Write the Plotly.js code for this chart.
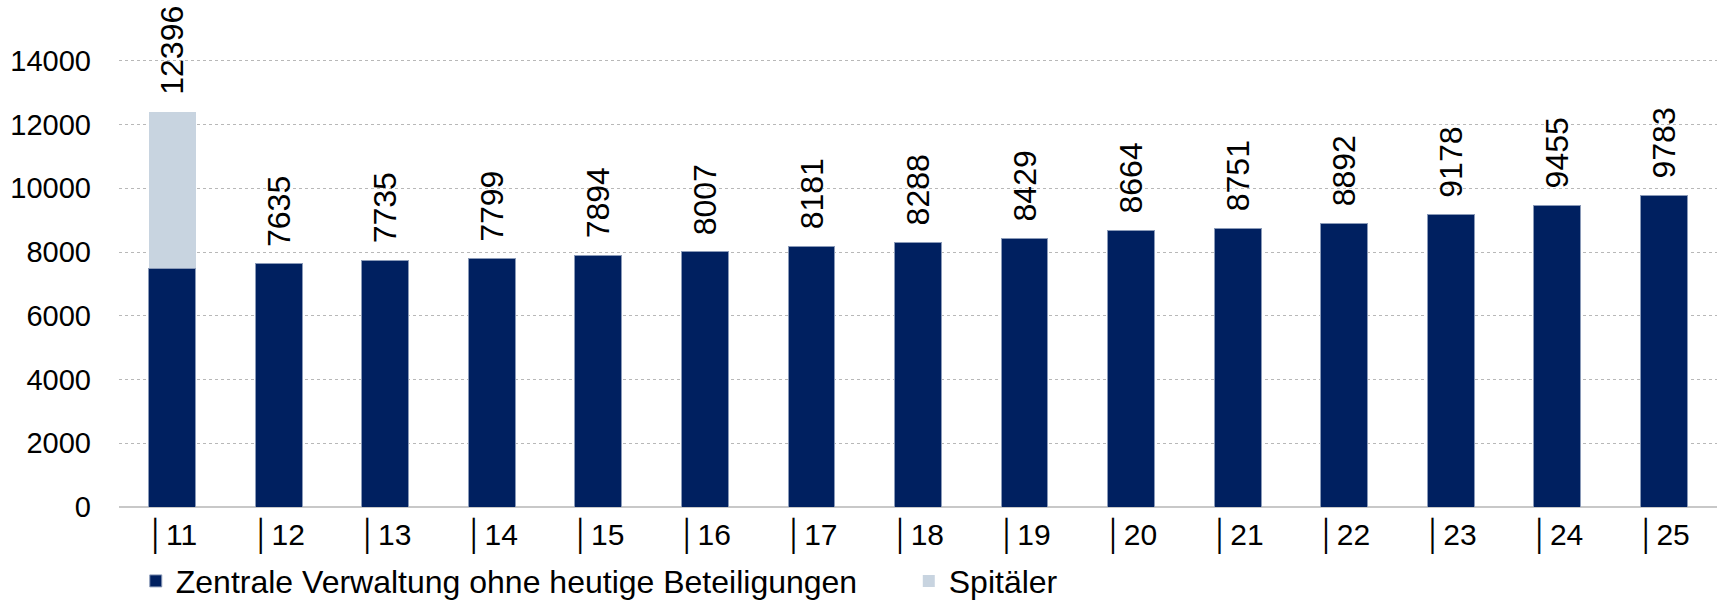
<!DOCTYPE html>
<html>
<head>
<meta charset="utf-8">
<script src="https://cdn.plot.ly/plotly-3.0.1.min.js"></script>
<style>html,body{margin:0;padding:0;background:#fff;}#chart{width:1723px;height:600px;}</style>
</head>
<body>
<div id="chart"></div>
<script>
const categories = ["11","12","13","14","15","16","17","18","19","20","21","22","23","24","25"];
const tickLabels = ["│11","│12","│13","│14","│15","│16","│17","│18","│19","│20","│21","│22","│23","│24","│25"];
const zentrale = [7500,7635,7735,7799,7894,8007,8181,8288,8429,8664,8751,8892,9178,9455,9783];
const spitaeler = [4896,0,0,0,0,0,0,0,0,0,0,0,0,0,0];
const totals = [12396,7635,7735,7799,7894,8007,8181,8288,8429,8664,8751,8892,9178,9455,9783];
const seriesNames = ["Zentrale Verwaltung ohne heutige Beteiligungen","Spitäler"];
const yTicks = [0,2000,4000,6000,8000,10000,12000,14000];

const FAM = "Liberation Sans, Arial, sans-serif";
const tickFont = {family: FAM, size: 29, color: "#000"};
const xTickFont = {family: FAM, size: 30, color: "#000"};
const labelFont = {family: FAM, size: 32, color: "#000"};
const legendFont = {family: FAM, size: 32, color: "#000"};

const traces = [
  {type: "bar", x: categories, y: zentrale, name: seriesNames[0],
   marker: {color: "#002060", line: {color: "#8a9ab8", width: 1}}, hoverinfo: "skip"},
  {type: "bar", x: categories, y: spitaeler, name: seriesNames[1],
   marker: {color: "#c8d4e0", line: {width: 0}}, hoverinfo: "skip"}
];

const annotations = categories.map((c, i) => ({
  x: i, y: totals[i], xref: "x", yref: "y", text: String(totals[i]),
  textangle: -90, showarrow: false, yanchor: "bottom", xanchor: "center",
  yshift: 15, font: labelFont
}));

const layout = {
  width: 1723, height: 600,
  margin: {l: 119, r: 6, t: 29, b: 93, autoexpand: false},
  paper_bgcolor: "#fff", plot_bgcolor: "#fff",
  barmode: "stack", bargap: 0.56,
  font: tickFont,
  showlegend: true,
  legend: {orientation: "h", x: 0.0105, xanchor: "left", y: -0.155, yanchor: "middle",
           font: legendFont, traceorder: "normal", entrywidth: 728, entrywidthmode: "pixels"},
  xaxis: {type: "category", tickmode: "array", tickvals: categories, ticktext: tickLabels,
          range: [-0.5, 14.5],
          showgrid: false, zeroline: false, showline: false, ticks: "", tickfont: xTickFont,
          ticklabelstandoff: 7},
  yaxis: {range: [0, 15000], tickmode: "array", tickvals: yTicks, tickformat: "d", showgrid: true,
          gridcolor: "#b8b8b8", griddash: "dot", gridwidth: 1,
          zeroline: true, zerolinecolor: "#c8c8c8", zerolinewidth: 2,
          showline: false, ticks: "", tickfont: tickFont, ticklabelstandoff: 27, fixedrange: true},
  annotations: annotations
};

Plotly.newPlot("chart", traces, layout, {displayModeBar: false, staticPlot: true});
</script>
</body>
</html>
